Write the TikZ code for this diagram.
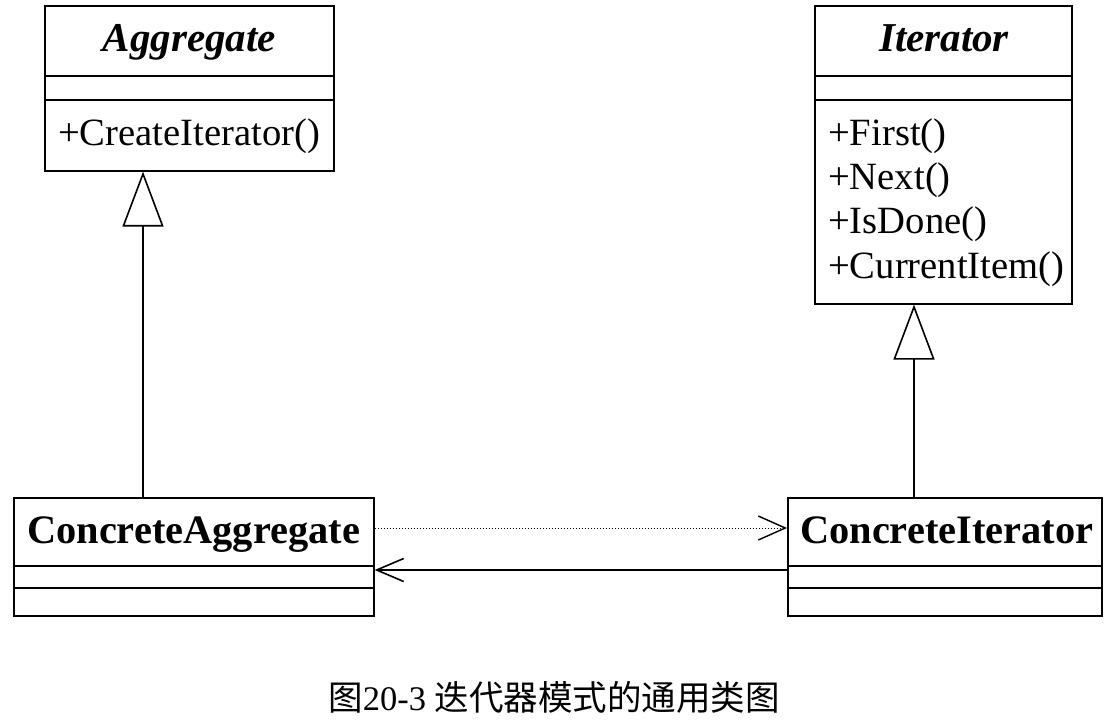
\documentclass[tikz,border=0pt]{standalone}
\usepackage{fontspec}
\setmainfont{Liberation Serif}
\newfontfamily\cjk{Noto Sans CJK SC}
\usetikzlibrary{arrows.meta}
\tikzset{
  box/.style={draw, line width=1.6pt, rectangle, anchor=north west, inner sep=0pt},
  sep/.style={line width=1.6pt},
  txt/.style={anchor=base west, inner sep=0pt, font=\fontsize{38.6}{44}\selectfont},
  ttl/.style={anchor=base, inner sep=0pt, font=\fontsize{41}{44}\selectfont\bfseries\itshape},
  ctl/.style={anchor=base west, inner sep=0pt, font=\fontsize{40.4}{44}\selectfont\bfseries},
  inherit/.style={line width=1.6pt, -{Triangle[open, length=55pt, width=41pt, line width=1.6pt]}},
  depend/.style={line width=1pt, dash pattern=on 1.5pt off 1.5pt, -{Straight Barb[length=27pt, width=24pt, line width=1.4pt]}},
  assoc/.style={line width=1.6pt, -{Straight Barb[length=27pt, width=23pt, line width=1.6pt]}}
}
\begin{document}
\begin{tikzpicture}[x=1pt,y=-1pt]
\useasboundingbox (0,0) rectangle (1113,727);
% Aggregate
\node[box, minimum width=289pt, minimum height=165pt] (agg) at (44,5) {};
\draw[sep] (44,76) -- (333,76);
\draw[sep] (44,100) -- (333,100);
\node[ttl] (aggt) at (189.5,52) {Aggregate};
\node[txt] (aggm) at (58,146) {+CreateIterator()};
% Iterator
\node[box, minimum width=257pt, minimum height=298pt] (it) at (814,5) {};
\draw[sep] (814,76) -- (1071,76);
\draw[sep] (814,100) -- (1071,100);
\node[ttl] (itt) at (944,52) {Iterator};
\node[txt] (itm1) at (828,146) {+First()};
\node[txt] (itm2) at (828,190) {+Next()};
\node[txt] (itm3) at (828,234) {+IsDone()};
\node[txt] (itm4) at (828,278) {+CurrentItem()};
% ConcreteAggregate
\node[box, minimum width=360pt, minimum height=118pt] (cagg) at (13,497) {};
\draw[sep] (13,566) -- (373,566);
\draw[sep] (13,588) -- (373,588);
\node[ctl] (caggt) at (27,543) {ConcreteAggregate};
% ConcreteIterator
\node[box, minimum width=314pt, minimum height=118pt] (cit) at (787,497) {};
\draw[sep] (787,566) -- (1101,566);
\draw[sep] (787,588) -- (1101,588);
\node[ctl] (citt) at (800,543) {ConcreteIterator};
% connectors
\coordinate (a1) at (143,170);
\coordinate (i1) at (914,303);
\coordinate (d1) at (0,528);
\coordinate (s1) at (0,570);
\draw[inherit] (cagg.north -| a1) -- (agg.south -| a1);
\draw[inherit] (cit.north -| i1) -- (it.south -| i1);
\draw[depend] (cagg.east |- d1) -- (cit.west |- d1);
\draw[assoc] (cit.west |- s1) -- (cagg.east |- s1);
% caption
\node[anchor=base, inner sep=0pt, font=\fontsize{34.5}{40}\selectfont] (cap) at (554,710) {{\cjk 图}20-3 {\cjk 迭代器模式的通用类图}};
\end{tikzpicture}
\end{document}
